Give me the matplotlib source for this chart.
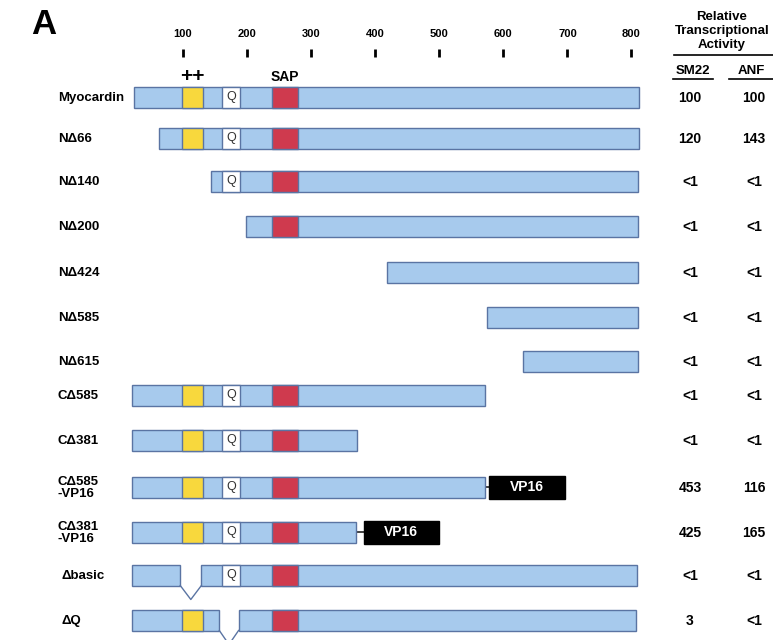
import matplotlib
matplotlib.use("Agg")
import matplotlib.pyplot as plt
from matplotlib.patches import Rectangle

plt.rcParams["font.family"] = ["Liberation Sans", "DejaVu Sans"]

# ---- construct data (amino-acid positions) ----
names = ["Myocardin", "NΔ66", "NΔ140", "NΔ200", "NΔ424", "NΔ585", "NΔ615",
         "CΔ585", "CΔ381", "CΔ585\n-VP16", "CΔ381\n-VP16", "Δbasic", "ΔQ"]
starts = [24, 63, 144, 198, 418, 574, 631, 21, 21, 21, 21, 20, 20]
ends = [812, 811, 810, 810, 810, 810, 810, 571, 372, 571, 370, 808, 807]
# removed internal region (None when absent)
deletions = [None] * 11 + [(96, 129), (157, 187)]
# VP16 fusion extent (None when absent)
vp16 = [None] * 9 + [(578, 696), (382, 499)] + [None, None]

# domains
basic_dom = (98, 132)
q_dom = (161, 190)
sap_dom = (239, 280)

sm22 = ["100", "120", "<1", "<1", "<1", "<1", "<1", "<1", "<1", "453", "425", "<1", "3"]
anf = ["100", "143", "<1", "<1", "<1", "<1", "<1", "<1", "<1", "116", "165", "<1", "<1"]

tick_vals = [100, 200, 300, 400, 500, 600, 700, 800]

# ---- layout ----
W, H = 773, 640
row_y = [97, 138, 181, 226, 272, 317, 361, 395, 440, 487, 532, 575, 620]
bar_h = 21
BLUE = "#a7caed"
EDGE = "#5a74a3"
YELLOW = "#f8d83d"
RED = "#cf3a4e"

fig = plt.figure(figsize=(W / 100, H / 100), dpi=100)
# sequence axis: x in amino acids, y in rows
ax = fig.add_axes([0, 0, 1, 1])
ax.set_xlim(-185.2, 1020.8)
ax.set_ylim(H, 0)
ax.axis("off")
# annotation layer for labels and activity columns
lay = fig.add_axes([0, 0, 1, 1])
lay.set_xlim(0, W)
lay.set_ylim(H, 0)
lay.axis("off")
lay.patch.set_alpha(0)

# panel letter
lay.text(31, 25, "A", fontsize=25, fontweight="bold", ha="left", va="center")

# sequence ruler
ax.vlines(tick_vals, 49, 57, color="black", lw=2)
for t in tick_vals:
    ax.text(t, 34, str(t), ha="center", va="center", fontsize=8, fontweight="bold")

ax.text(sum(basic_dom) / 2, 76, "++", ha="center", va="center", fontsize=15, fontweight="bold")
ax.text(sum(sap_dom) / 2, 77, "SAP", ha="center", va="center", fontsize=10, fontweight="bold")


def box(x0, x1, yc, color, h=bar_h, z=2):
    ax.add_patch(Rectangle((x0, yc - h / 2), x1 - x0, h, facecolor=color,
                           edgecolor=EDGE, lw=1.0, zorder=z))


for i, name in enumerate(names):
    yc = row_y[i]
    s, e = starts[i], ends[i]
    d = deletions[i]
    # backbone pieces
    if d is None:
        box(s, e, yc, BLUE)
    else:
        box(s, d[0], yc, BLUE)
        box(d[1], e, yc, BLUE)
        bot = yc + bar_h / 2
        mid = (d[0] + d[1]) / 2
        ax.plot([d[0], mid, d[1]], [bot, bot + 14, bot], color=EDGE, lw=1.0, zorder=3)
    # domains
    for (ds, de), col in [(basic_dom, YELLOW), (q_dom, "white"), (sap_dom, RED)]:
        if d is not None and ds >= d[0] - 3 and de <= d[1] + 3:
            continue
        a, b = max(ds, s), min(de, e)
        if a >= b:
            continue
        box(a, b, yc, col, z=3)
        if col == "white":
            ax.text((a + b) / 2, yc, "Q", ha="center", va="center", fontsize=9,
                    color="#333333", zorder=4)
    # VP16 fusion
    if vp16[i] is not None:
        v0, v1 = vp16[i]
        ax.plot([e, v0], [yc, yc], color="#222222", lw=1.2, zorder=1)
        ax.add_patch(Rectangle((v0, yc - 11.5), v1 - v0, 23, facecolor="black",
                               edgecolor="black", lw=1, zorder=3))
        ax.text((v0 + v1) / 2, yc, "VP16", color="white", ha="center", va="center",
                fontsize=10, fontweight="bold", zorder=4)
    # construct name
    lx = 62 if name.startswith("Δ") else 58
    lay.text(lx, yc + 1, name, ha="left", va="center", fontsize=9.5,
             fontweight="bold", linespacing=1.05)
    # activity values
    lay.text(690, yc + 1, sm22[i], ha="center", va="center", fontsize=10, fontweight="bold")
    lay.text(754, yc + 1, anf[i], ha="center", va="center", fontsize=10, fontweight="bold")

# activity header
lay.text(722, 31, "Relative\nTranscriptional\nActivity", ha="center", va="center",
         fontsize=9.5, fontweight="bold", linespacing=1.2)
lay.plot([674, 773], [55, 55], color="black", lw=1.2)
lay.text(693, 71, "SM22", ha="center", va="center", fontsize=9.5, fontweight="bold")
lay.text(751, 71, "ANF", ha="center", va="center", fontsize=9.5, fontweight="bold")
lay.plot([673, 713], [79, 79], color="black", lw=1.2)
lay.plot([729, 773], [79, 79], color="black", lw=1.2)

fig.savefig("out.png", dpi=100, facecolor="white")
